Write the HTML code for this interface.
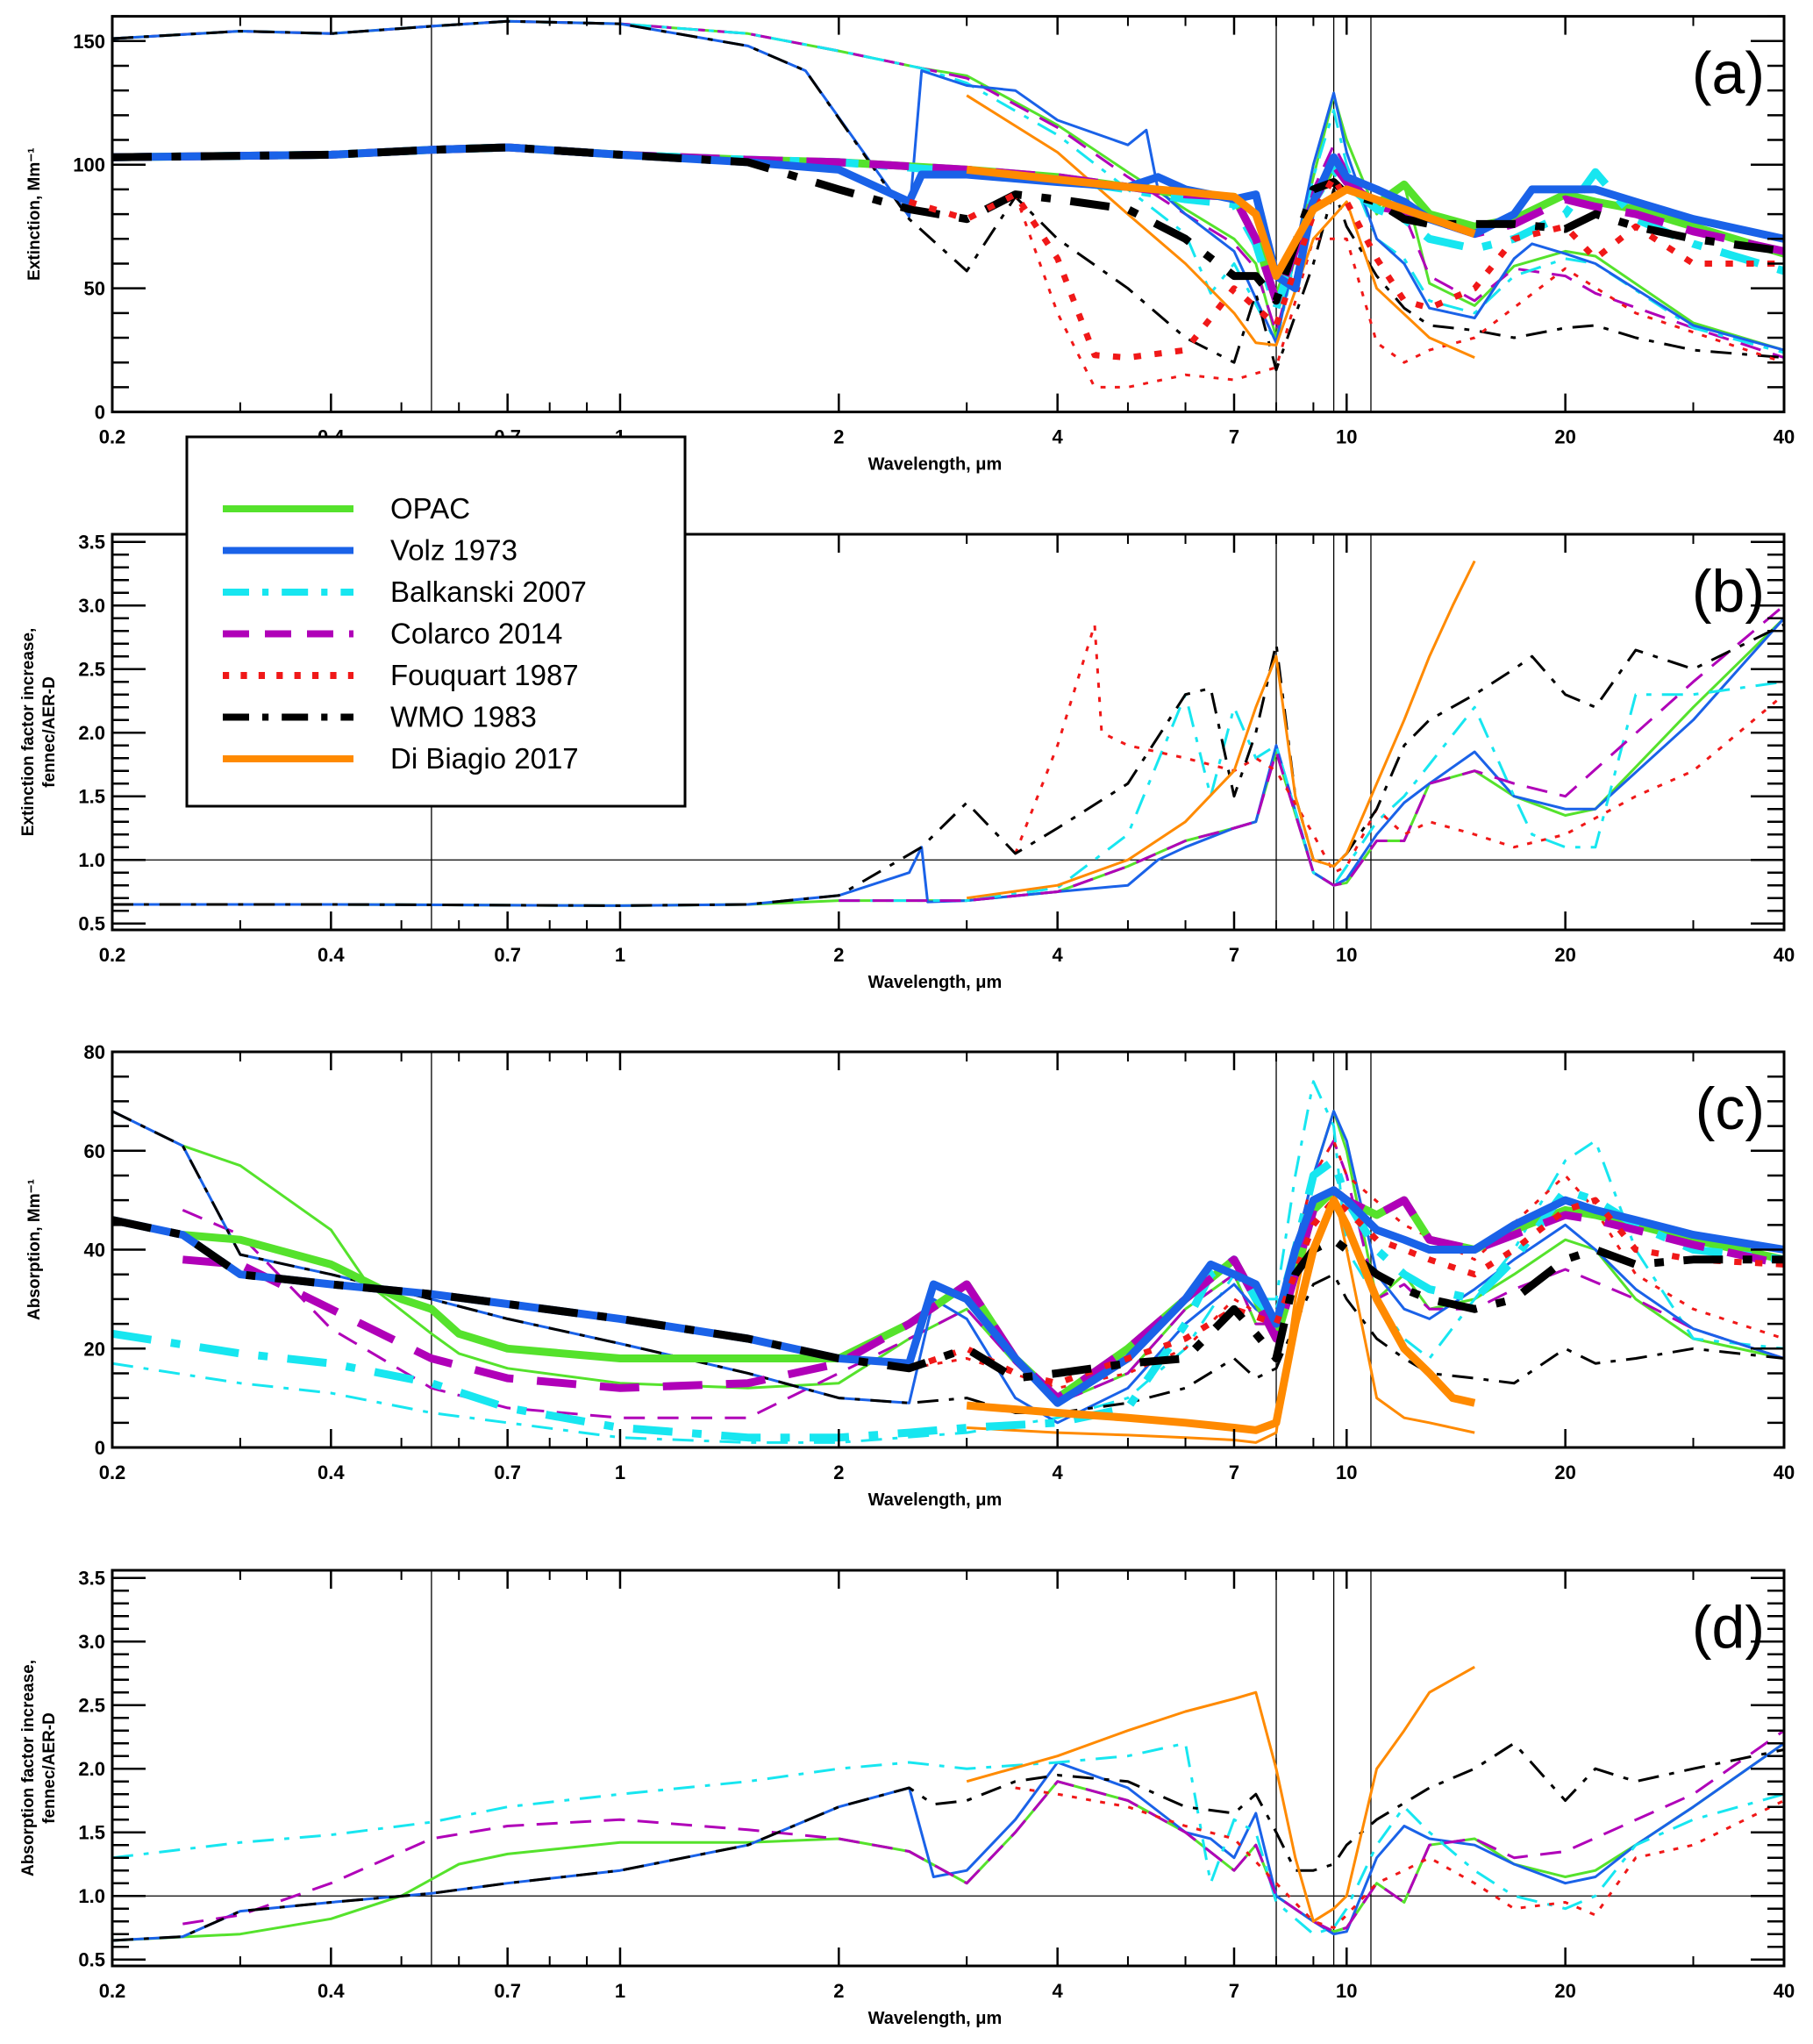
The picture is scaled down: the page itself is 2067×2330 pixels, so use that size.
<!DOCTYPE html>
<html><head><meta charset="utf-8"><style>
body{margin:0;background:#fff;}
svg{display:block;font-family:"Liberation Sans",sans-serif;}
</style></head><body>
<svg id="chart" width="2067" height="2330" viewBox="0 0 2067 2330" xmlns="http://www.w3.org/2000/svg"></svg>
<script>
// ---- data ----
const xTicksMajor = [0.2,0.4,0.7,1,2,4,7,10,20,40];
const xTickLabels = ["0.2","0.4","0.7","1","2","4","7","10","20","40"];
const xTicksMinor = [0.3,0.5,0.6,0.8,0.9,3,5,6,8,9,30];
const vLines = [0.55,8,9.6,10.8];

// Panel a: extinction
const a_thin_opac = [[0.2,151],[0.3,154],[0.4,153],[0.55,156],[0.7,158],[1,157],[1.5,153],[2,146],[2.6,139],[3,136],[4,116],[5,97],[6,82],[7,70],[7.5,60],[8,30],[9,95],[9.6,128],[10,110],[11,80],[12,92],[13,52],[15,43],[17,59],[20,65],[22,63],[30,36],[40,25]];
const a_thin_colarco = [[0.2,151],[0.3,154],[0.4,153],[0.55,156],[0.7,158],[1,157],[1.5,153],[2,146],[2.6,139],[3,135],[4,115],[5,95],[6,80],[7,68],[7.5,58],[8,32],[9,90],[9.6,108],[10,98],[11,82],[12,80],[13,55],[15,45],[17,58],[20,55],[22,48],[30,34],[40,22]];
const a_thin_balk = [[0.2,151],[0.3,154],[0.4,153],[0.55,156],[0.7,158],[1,157],[1.5,153],[2,146],[2.6,139],[3,133],[4,112],[5,90],[6,72],[6.5,48],[7,60],[8,28],[9,95],[9.6,122],[10,100],[11,70],[12,62],[13,45],[15,40],[17,55],[20,62],[22,60],[30,34],[40,24]];
const a_thin_volz = [[0.2,151],[0.3,154],[0.4,153],[0.55,156],[0.7,158],[1,157],[1.5,148],[1.8,138],[2.5,79],[2.6,138],[3,132],[3.5,130],[4,118],[5,108],[5.3,114],[5.5,90],[6,80],[7,65],[8,28],[9,100],[9.6,129],[10,105],[11,70],[12,60],[13,42],[15,38],[17,62],[18,68],[20,64],[22,60],[30,35],[40,25]];
const a_thin_wmo = [[0.2,151],[0.3,154],[0.4,153],[0.55,156],[0.7,158],[1,157],[1.5,148],[1.8,138],[2.5,78],[3,57],[3.5,87],[4,70],[5,50],[6,30],[7,20],[7.5,48],[8,17],[9,60],[9.6,90],[10,75],[11,55],[12,42],[13,35],[15,33],[17,30],[20,34],[22,35],[25,30],[30,25],[40,22]];
const a_thin_fouq = [[3.5,88],[4,40],[4.5,10],[5,10],[6,15],[7,13],[8,18],[9,70],[10,70],[11,28],[12,20],[13,25],[15,30],[20,58],[25,40],[40,20]];
const a_thin_dib = [[3,128],[4,105],[5,80],[6,60],[7,40],[7.5,28],[8,27],[9,70],[10,85],[11,50],[13,30],[15,22]];
const a_thick_opac = [[0.2,103],[0.4,104],[0.55,106],[0.7,107],[1,104],[1.5,102],[2,101],[3,98],[4,95],[5,91],[6,88],[7,87],[7.5,70],[8,45],[9,85],[9.6,100],[10,93],[11,84],[12,92],[13,80],[15,75],[17,78],[20,88],[22,85],[25,82],[30,75],[40,64]];
const a_thick_colarco = [[0.2,103],[0.4,104],[0.55,106],[0.7,107],[1,104],[1.5,102],[2,101],[3,98],[4,95],[5,91],[6,88],[7,87],[7.5,70],[8,45],[9,85],[9.6,100],[10,93],[11,84],[12,80],[13,78],[15,72],[17,76],[20,86],[22,83],[25,80],[30,73],[40,65]];
const a_thick_balk = [[0.2,103],[0.4,104],[0.55,106],[0.7,107],[1,104],[1.5,102],[2,101],[3,97],[4,94],[5,90],[6,86],[7,84],[7.5,68],[8,42],[9,85],[9.6,98],[10,92],[11,82],[12,78],[13,70],[15,66],[17,70],[20,80],[22,97],[25,78],[30,68],[40,57]];
const a_thick_volz = [[0.2,103],[0.4,104],[0.55,106],[0.7,107],[1,104],[1.5,101],[2,98],[2.5,85],[2.6,96],[3,96],[4,93],[5,91],[5.5,95],[6,90],[7,86],[7.5,88],[8,55],[8.5,50],[9,85],[9.6,103],[10,95],[11,90],[12,85],[13,78],[15,72],[17,80],[18,90],[20,90],[22,90],[25,85],[30,78],[40,70]];
const a_thick_wmo = [[0.2,103],[0.4,104],[0.55,106],[0.7,107],[1,104],[1.5,101],[2,90],[2.5,82],[3,78],[3.5,88],[4,86],[5,82],[6,70],[7,55],[7.5,55],[8,45],[9,90],[9.6,93],[10,88],[11,85],[12,78],[13,76],[15,76],[17,76],[20,74],[22,80],[25,75],[30,70],[40,65]];
const a_thick_fouq = [[2.5,85],[3,78],[3.5,88],[4,62],[4.5,23],[5,22],[6,25],[7,50],[8,35],[9,80],[9.6,95],[10,85],[11,62],[12,45],[13,42],[15,50],[17,70],[20,75],[22,62],[25,75],[30,60],[40,60]];
const a_thick_dib = [[3,98],[4,94],[5,91],[6,89],[7,87],[7.5,80],[8,55],[9,82],[10,90],[12,82],[15,72]];

// Panel b: extinction ratio
const b_opac = [[0.2,0.65],[0.4,0.65],[1,0.64],[1.5,0.65],[2,0.68],[3,0.68],[4,0.75],[5,0.95],[6,1.15],[7,1.25],[7.5,1.3],[8,1.85],[9,0.9],[9.6,0.8],[10,0.82],[11,1.15],[12,1.15],[13,1.6],[15,1.7],[17,1.5],[20,1.35],[22,1.4],[30,2.2],[40,2.9]];
const b_volz = [[0.2,0.65],[0.4,0.65],[1,0.64],[1.5,0.65],[2,0.72],[2.5,0.9],[2.6,1.1],[2.65,0.67],[3,0.68],[4,0.75],[5,0.8],[5.5,1.0],[6,1.1],[7,1.25],[7.5,1.3],[8,1.9],[9,0.9],[9.6,0.8],[10,0.85],[11,1.2],[12,1.45],[13,1.6],[15,1.85],[17,1.5],[20,1.4],[22,1.4],[30,2.1],[40,2.9]];
const b_balk = [[2,0.68],[3,0.68],[4,0.78],[5,1.2],[6,2.3],[6.5,1.5],[7,2.2],[7.5,1.8],[8,1.9],[9,0.9],[9.6,0.8],[10,0.95],[11,1.3],[12,1.5],[15,2.2],[17,1.5],[18,1.2],[20,1.1],[22,1.1],[25,2.3],[30,2.3],[40,2.4]];
const b_colarco = [[2,0.68],[3,0.68],[4,0.75],[5,0.95],[6,1.15],[7,1.25],[7.5,1.3],[8,1.85],[9,0.9],[9.6,0.8],[10,0.82],[11,1.15],[12,1.15],[13,1.6],[15,1.7],[17,1.6],[20,1.5],[30,2.4],[40,3.0]];
const b_fouq = [[3.5,1.05],[4,1.9],[4.5,2.85],[4.6,2.0],[5,1.9],[6,1.8],[7,1.7],[7.5,1.8],[8,1.7],[9,1.2],[9.6,0.9],[10,0.95],[11,1.4],[12,1.2],[13,1.3],[15,1.2],[17,1.1],[20,1.2],[25,1.5],[30,1.7],[40,2.3]];
const b_wmo = [[0.2,0.65],[0.4,0.65],[1,0.64],[1.5,0.65],[2,0.72],[2.6,1.1],[3,1.45],[3.5,1.05],[4,1.25],[5,1.6],[6,2.3],[6.5,2.35],[7,1.5],[7.5,2.0],[8,2.7],[8.5,1.5],[9,1.0],[9.6,0.95],[10,1.05],[11,1.4],[12,1.9],[13,2.1],[15,2.3],[17,2.5],[18,2.6],[20,2.3],[22,2.2],[25,2.65],[30,2.5],[40,2.85]];
const b_dib = [[3,0.7],[4,0.8],[5,1.0],[6,1.3],[7,1.7],[7.5,2.2],[8,2.6],[8.5,1.5],[9,1.0],[9.6,0.95],[10,1.05],[11,1.6],[12,2.1],[13,2.6],[14,3.0],[15,3.35]];

// Panel c: absorption
const c_thin_opac = [[0.25,61],[0.3,57],[0.4,44],[0.45,33],[0.55,23],[0.6,19],[0.7,16],[1,13],[1.5,12],[2,13],[2.5,22],[3,28],[3.5,17],[4,9],[5,15],[6,28],[7,35],[7.5,25],[8,25],[9,55],[9.6,68],[10,60],[11,30],[12,35],[13,28],[15,30],[17,35],[20,42],[22,40],[25,30],[30,22],[40,18]];
const c_thin_volz = [[0.2,68],[0.25,61],[0.3,39],[0.4,35],[0.55,30],[0.7,26],[1,21],[1.5,15],[2,10],[2.5,9],[2.7,30],[3,26],[3.5,10],[4,5],[5,12],[6,25],[7,33],[7.5,28],[8,25],[9,55],[9.6,68],[10,62],[11,35],[12,28],[13,26],[15,32],[17,38],[20,45],[22,40],[25,32],[30,24],[40,18]];
const c_thin_balk = [[0.2,17],[0.3,13],[0.4,11],[0.55,7],[0.7,5],[1,2],[1.5,1],[2,1],[3,3],[4,6],[5,10],[6,20],[7,35],[7.5,30],[8,30],[8.5,55],[9,74],[9.6,65],[10,40],[11,30],[12,22],[13,18],[15,30],[17,40],[20,58],[22,62],[25,40],[30,22],[40,20]];
const c_thin_colarco = [[0.25,48],[0.3,43],[0.4,24],[0.55,12],[0.7,8],[1,6],[1.5,6],[2,15],[2.5,22],[3,28],[3.5,17],[4,9],[5,15],[6,28],[7,35],[7.5,25],[8,25],[9,55],[9.6,62],[10,55],[11,30],[12,33],[13,28],[15,28],[17,32],[20,36],[25,30],[30,24],[40,18]];
const c_thin_fouq = [[2.5,16],[3,18],[4,12],[5,15],[6,20],[7,30],[8,25],[9,55],[9.6,62],[10,55],[12,45],[15,38],[20,55],[22,48],[25,35],[30,28],[40,22]];
const c_thin_wmo = [[0.2,68],[0.25,61],[0.3,39],[0.4,35],[0.55,30],[0.7,26],[1,21],[1.5,15],[2,10],[2.5,9],[3,10],[3.5,7],[4,7],[5,9],[6,12],[7,18],[7.5,14],[8,16],[8.5,25],[9,33],[9.6,35],[10,30],[11,22],[12,18],[13,15],[15,14],[17,13],[20,20],[22,17],[25,18],[30,20],[40,18]];
const c_thin_dib = [[3,4],[4,3],[5,2.5],[6,2],[7,1.5],[7.5,1],[8,3],[8.5,30],[9,48],[9.6,52],[10,40],[11,10],[12,6],[13,5],[15,3]];
const c_thick_opac = [[0.25,43],[0.3,42],[0.4,37],[0.5,30],[0.55,28],[0.6,23],[0.7,20],[1,18],[1.5,18],[2,18],[2.5,25],[3,33],[3.5,18],[4,10],[5,20],[6,30],[7,38],[7.5,30],[8,22],[8.5,35],[9,48],[9.6,52],[10,50],[11,47],[12,50],[13,42],[15,40],[17,44],[20,48],[22,47],[25,45],[30,42],[40,38]];
const c_thick_colarco = [[0.25,38],[0.3,37],[0.4,28],[0.55,18],[0.7,14],[1,12],[1.5,13],[2,17],[2.5,25],[3,33],[3.5,18],[4,10],[5,20],[6,30],[7,38],[7.5,30],[8,22],[8.5,35],[9,48],[9.6,52],[10,50],[11,47],[12,50],[13,42],[15,40],[17,43],[20,47],[22,46],[25,44],[30,41],[40,37]];
const c_thick_balk = [[0.2,23],[0.3,19],[0.4,17],[0.55,13],[0.7,8],[1,4],[1.5,2],[2,2],[2.5,3],[3,4],[4,5],[5,8],[6,25],[6.5,35],[7,38],[7.5,30],[8,26],[8.5,40],[9,55],[9.6,58],[10,50],[11,40],[12,35],[13,32],[15,30],[17,38],[20,52],[22,50],[25,45],[30,40],[40,38]];
const c_thick_volz = [[0.2,46],[0.25,43],[0.3,35],[0.4,33],[0.55,31],[0.7,29],[1,26],[1.5,22],[2,18],[2.5,17],[2.7,33],[3,30],[3.5,18],[4,9],[5,18],[6,30],[6.5,37],[7,35],[7.5,33],[8,25],[8.5,40],[9,50],[9.6,52],[10,50],[11,44],[12,42],[13,40],[15,40],[17,45],[20,50],[22,48],[25,46],[30,43],[40,40]];
const c_thick_fouq = [[2.5,16],[3,20],[3.5,15],[4,13],[5,18],[6,22],[7,28],[8,25],[9,45],[9.6,50],[10,48],[11,42],[12,40],[13,38],[15,35],[17,40],[20,48],[22,50],[25,40],[30,38],[40,37]];
const c_thick_wmo = [[0.2,46],[0.25,43],[0.3,35],[0.4,33],[0.55,31],[0.7,29],[1,26],[1.5,22],[2,18],[2.5,16],[3,20],[3.5,14],[4,15],[5,17],[6,18],[7,28],[7.5,23],[8,18],[8.5,35],[9,40],[9.6,42],[10,40],[11,35],[12,32],[13,30],[15,28],[17,30],[20,38],[22,40],[25,37],[30,38],[40,38]];
const c_thick_dib = [[3,8.5],[4,7],[5,6],[6,5],[7,4],[7.5,3.5],[8,5],[8.5,25],[9,40],[9.6,50],[10,45],[11,30],[12,20],[13,15],[14,10],[15,9]];

// Panel d: absorption ratio
const d_opac = [[0.2,0.65],[0.3,0.7],[0.4,0.82],[0.5,1.0],[0.6,1.25],[0.7,1.33],[1,1.42],[1.5,1.42],[2,1.45],[2.5,1.35],[3,1.1],[3.5,1.5],[4,1.9],[5,1.75],[6,1.5],[7,1.2],[7.5,1.4],[8,1.0],[9,0.8],[9.6,0.72],[10,0.75],[11,1.1],[12,0.95],[13,1.4],[15,1.45],[17,1.25],[20,1.15],[22,1.2],[25,1.4],[30,1.7],[40,2.2]];
const d_volz = [[0.2,0.65],[0.25,0.68],[0.3,0.88],[0.4,0.95],[0.55,1.02],[0.7,1.1],[1,1.2],[1.5,1.4],[2,1.7],[2.5,1.85],[2.7,1.15],[3,1.2],[3.5,1.6],[4,2.05],[5,1.85],[6,1.5],[6.5,1.45],[7,1.3],[7.5,1.65],[8,1.0],[9,0.8],[9.6,0.7],[10,0.72],[11,1.3],[12,1.55],[13,1.45],[15,1.4],[17,1.25],[20,1.1],[22,1.15],[25,1.4],[30,1.7],[40,2.2]];
const d_balk = [[0.2,1.3],[0.3,1.42],[0.4,1.48],[0.55,1.58],[0.7,1.7],[1,1.8],[1.5,1.9],[2,2.0],[2.5,2.05],[3,2.0],[4,2.05],[5,2.1],[6,2.2],[6.5,1.1],[7,1.6],[7.5,1.5],[8,0.95],[9,0.7],[9.6,0.75],[10,0.9],[11,1.4],[12,1.7],[13,1.5],[15,1.2],[17,1.0],[20,0.9],[22,1.0],[25,1.4],[30,1.6],[40,1.8]];
const d_colarco = [[0.25,0.78],[0.3,0.85],[0.4,1.1],[0.55,1.45],[0.7,1.55],[1,1.6],[1.5,1.52],[2,1.45],[2.5,1.35],[3,1.1],[3.5,1.5],[4,1.9],[5,1.75],[6,1.5],[7,1.2],[7.5,1.4],[8,1.0],[9,0.8],[9.6,0.72],[10,0.75],[11,1.1],[12,0.95],[13,1.4],[15,1.45],[17,1.3],[20,1.35],[30,1.8],[40,2.3]];
const d_fouq = [[3.5,1.85],[4,1.8],[5,1.7],[6,1.55],[7,1.45],[8,1.1],[9,0.8],[9.6,0.75],[10,0.85],[11,1.1],[12,1.2],[13,1.3],[15,1.1],[17,0.9],[20,0.95],[22,0.85],[25,1.3],[30,1.4],[40,1.75]];
const d_wmo = [[0.2,0.65],[0.25,0.68],[0.3,0.88],[0.4,0.95],[0.55,1.02],[0.7,1.1],[1,1.2],[1.5,1.4],[2,1.7],[2.5,1.85],[2.7,1.72],[3,1.75],[3.5,1.9],[4,1.95],[5,1.9],[6,1.7],[7,1.65],[7.5,1.8],[8,1.5],[8.5,1.2],[9,1.2],[9.6,1.25],[10,1.4],[11,1.6],[13,1.85],[15,2.0],[17,2.2],[20,1.75],[22,2.0],[25,1.9],[30,2.0],[40,2.15]];
const d_dib = [[3,1.9],[4,2.1],[5,2.3],[6,2.45],[7,2.55],[7.5,2.6],[8,2.0],[8.5,1.3],[9,0.8],[9.6,0.9],[10,1.0],[11,2.0],[12,2.3],[13,2.6],[15,2.8]];

// ---- drawing ----
const NS="http://www.w3.org/2000/svg";
const svg=document.getElementById('chart');
const X0=128,X1=2034,XMIN=0.2,XMAX=40;
function xs(v){return X0+(Math.log(v/XMIN)/Math.log(XMAX/XMIN))*(X1-X0);}
function mk(tag,at,parent){const e=document.createElementNS(NS,tag);for(const k in at)e.setAttribute(k,at[k]);(parent||svg).appendChild(e);return e;}

const styles={
 opac:{c:"#55e22c",d:""},volz:{c:"#1a62e8",d:""},balk:{c:"#17e6f0",d:"dashdot"},
 colarco:{c:"#b000b8",d:"dash"},fouq:{c:"#f01818",d:"dot"},wmo:{c:"#000",d:"dashdot"},dib:{c:"#ff8a00",d:""}};
function dashFor(d,w){if(d==="dash")return (5*w)+","+(3*w);if(d==="dot")return (1.2*w)+","+(2.2*w);if(d==="dashdot")return (5*w)+","+(2.5*w)+","+(1.2*w)+","+(2.5*w);return "";}

const panels=[
 {id:"a",top:18.6,ymin:0,ymax:160,maj:50,min:10,fmt:v=>String(v),title:["Extinction, Mm\u207B\u00B9"],
  series:[["opac",a_thin_opac,3],["colarco",a_thin_colarco,3],["balk",a_thin_balk,3],["volz",a_thin_volz,3],["wmo",a_thin_wmo,3],["fouq",a_thin_fouq,3],["dib",a_thin_dib,3],
          ["opac",a_thick_opac,9],["balk",a_thick_balk,9],["colarco",a_thick_colarco,9],["volz",a_thick_volz,9],["wmo",a_thick_wmo,9],["fouq",a_thick_fouq,7],["dib",a_thick_dib,9]]},
 {id:"b",top:609,ymin:0.45,ymax:3.56,maj:0.5,min:0.1,fmt:v=>v.toFixed(1),title:["Extinction factor increase,","fennec/AER-D"],hline:1,
  series:[["opac",b_opac,3],["volz",b_volz,3],["balk",b_balk,3],["colarco",b_colarco,3],["fouq",b_fouq,3],["wmo",b_wmo,3],["dib",b_dib,3]]},
 {id:"c",top:1199,ymin:0,ymax:80,maj:20,min:5,fmt:v=>String(v),title:["Absorption, Mm\u207B\u00B9"],
  series:[["opac",c_thin_opac,3],["colarco",c_thin_colarco,3],["balk",c_thin_balk,3],["volz",c_thin_volz,3],["fouq",c_thin_fouq,3],["wmo",c_thin_wmo,3],["dib",c_thin_dib,3],
          ["opac",c_thick_opac,9],["balk",c_thick_balk,9],["colarco",c_thick_colarco,9],["volz",c_thick_volz,9],["fouq",c_thick_fouq,7],["wmo",c_thick_wmo,9],["dib",c_thick_dib,9]]},
 {id:"d",top:1790,ymin:0.45,ymax:3.56,maj:0.5,min:0.1,fmt:v=>v.toFixed(1),title:["Absorption factor increase,","fennec/AER-D"],hline:1,
  series:[["opac",d_opac,3],["volz",d_volz,3],["balk",d_balk,3],["colarco",d_colarco,3],["fouq",d_fouq,3],["wmo",d_wmo,3],["dib",d_dib,3]]}
];
const H=451;
panels.forEach(p=>{
 const g=mk('g',{});
 
 
 const top=p.top,bot=top+H;
 const ys=v=>bot-(v-p.ymin)/(p.ymax-p.ymin)*H;
 const clipId='clip'+p.id;
 const cp=mk('clipPath',{id:clipId},g);mk('rect',{x:X0,y:top,width:X1-X0,height:H},cp);
 const plot=mk('g',{'clip-path':'url(#'+clipId+')'},g);
 // reference lines
 vLines.forEach(v=>{const l=mk('line',{x1:xs(v),x2:xs(v),y1:top,y2:bot,stroke:"#000","stroke-width":1.3},plot);
  });
 if(p.hline){const l=mk('line',{x1:X0,x2:X1,y1:ys(p.hline),y2:ys(p.hline),stroke:"#000","stroke-width":1.3},plot);
  }
 p.series.forEach(s=>{
  const st=styles[s[0]];const w=s[2];
  const pts=s[1].map(q=>xs(q[0]).toFixed(1)+","+ys(q[1]).toFixed(1)).join(" ");
  const pl=mk('polyline',{points:pts,fill:"none",stroke:st.c,"stroke-width":w,"stroke-linejoin":"round"},plot);
  const da=dashFor(st.d,w<5?w*1.6:w);if(da)pl.setAttribute('stroke-dasharray',da);
  
  
 });
 // frame
 const fr=mk('rect',{x:X0,y:top,width:X1-X0,height:H,fill:"none",stroke:"#000","stroke-width":3},g);
 
 // x ticks
 xTicksMajor.forEach((v,i)=>{const x=xs(v);
  mk('line',{x1:x,x2:x,y1:bot,y2:bot-21,stroke:"#000","stroke-width":2.5},g);
  mk('line',{x1:x,x2:x,y1:top,y2:top+21,stroke:"#000","stroke-width":2.5},g);
  const t=mk('text',{x:x,y:bot+36,'text-anchor':'middle','font-size':22,'font-weight':'bold'},g);t.textContent=xTickLabels[i];
  });
 xTicksMinor.forEach(v=>{const x=xs(v);
  mk('line',{x1:x,x2:x,y1:bot,y2:bot-11,stroke:"#000","stroke-width":2},g);
  mk('line',{x1:x,x2:x,y1:top,y2:top+11,stroke:"#000","stroke-width":2},g);});
 const xt=mk('text',{x:1066,y:bot+66,'text-anchor':'middle','font-size':20,'font-weight':'bold'},g);
 xt.textContent="Wavelength, \u03BCm";
 // y ticks
 const n=Math.round((p.ymax-p.ymin)/p.min)+2;
 for(let k=0;k<n;k++){const v=Math.ceil(p.ymin/p.min-1e-6)*p.min+k*p.min; if(v>p.ymax+1e-6)break; const y=ys(v);
  const isMaj=Math.abs(v/p.maj-Math.round(v/p.maj))<1e-6;
  const L=isMaj?38:19;
  mk('line',{x1:X0,x2:X0+L,y1:y,y2:y,stroke:"#000","stroke-width":2.5},g);
  mk('line',{x1:X1,x2:X1-L,y1:y,y2:y,stroke:"#000","stroke-width":2.5},g);
  if(isMaj){const t=mk('text',{x:X0-8,y:y+8,'text-anchor':'end','font-size':22,'font-weight':'bold'},g);t.textContent=p.fmt(v);
   }
 }
 // y title
 const cy=top+H/2;
 p.title.forEach((line,i)=>{const xx=p.title.length>1?(i===0?38:62):45;
  const t=mk('text',{x:xx,y:cy,'text-anchor':'middle','font-size':19,'font-weight':'bold',transform:'rotate(-90 '+xx+' '+cy+')'},g);
  t.textContent=line;});
 // panel label
 const pl=mk('text',{x:2012,y:top+88,'text-anchor':'end','font-size':68},g);pl.textContent="("+p.id+")";
 
});

// legend
const legNames=["OPAC","Volz 1973","Balkanski 2007","Colarco 2014","Fouquart 1987","WMO 1983","Di Biagio 2017"];
const legKeys=["opac","volz","balk","colarco","fouq","wmo","dib"];
const lg=mk('g',{});

mk('rect',{x:213,y:498,width:568,height:421,fill:"#fff",stroke:"#000","stroke-width":3},lg);
legNames.forEach((nm,i)=>{const y=580+i*47.5;const st=styles[legKeys[i]];
 const l=mk('line',{x1:254,x2:403,y1:y,y2:y,stroke:st.c,"stroke-width":8},lg);
 const da=dashFor(st.d,6);if(da)l.setAttribute('stroke-dasharray',da);
 
 const t=mk('text',{x:445,y:y+11,'font-size':33},lg);t.textContent=nm;
 });
</script>
</body></html>
